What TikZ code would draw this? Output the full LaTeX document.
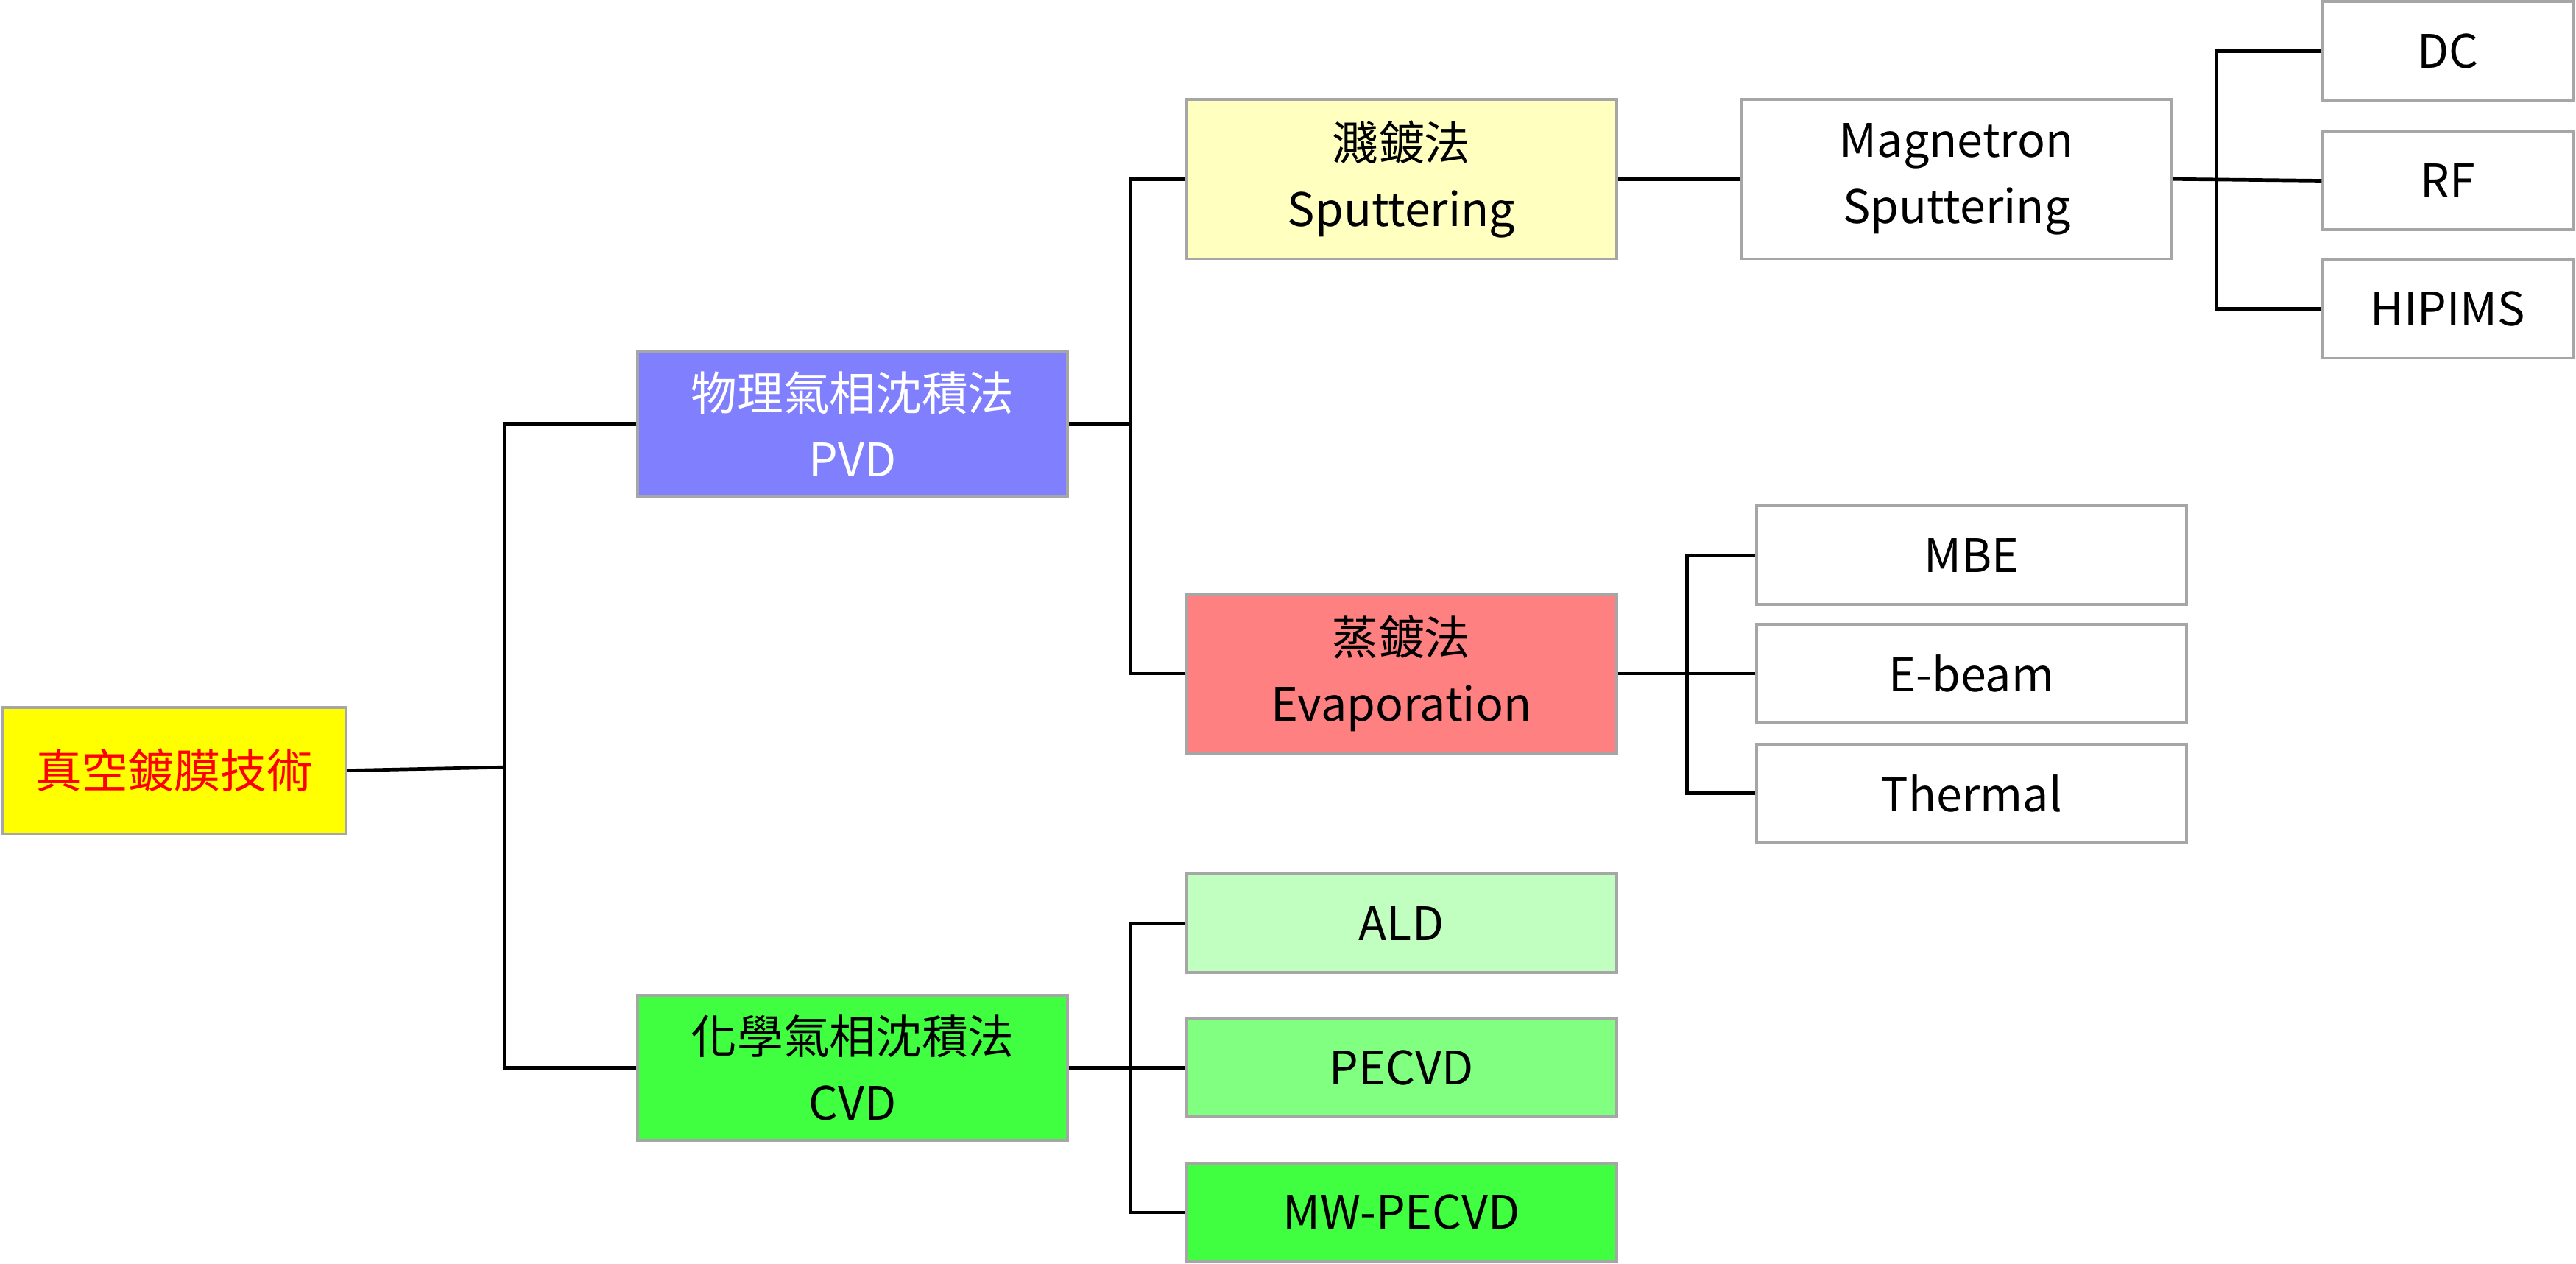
\documentclass[tikz,border=0pt]{standalone}
\usepackage{fontspec}
\setmainfont{Noto Sans CJK TC}
\usetikzlibrary{positioning}
\definecolor{rootfill}{HTML}{FFFF00}
\definecolor{pvdfill}{HTML}{8080FF}
\definecolor{cvdfill}{HTML}{40FF40}
\definecolor{sputfill}{HTML}{FFFFC0}
\definecolor{evapfill}{HTML}{FF8080}
\definecolor{aldfill}{HTML}{C0FFC0}
\definecolor{pecvdfill}{HTML}{80FF80}
\begin{document}
\begin{tikzpicture}[x=0.02cm, y=-0.02cm,% styles used in image code
box/.style = {draw=gray!70, line width=1pt, align=center,
              minimum width=5.24cm, minimum height=1.94cm,
              inner sep=0pt, font=\fontsize{16}{23}\selectfont},
low/.style = {box, minimum height=1.2cm},
leaf/.style = {box, minimum width=3.04cm, minimum height=1.2cm},
link/.style = {draw, line width=1.2pt}
                    ]
	\useasboundingbox (0,0) rectangle (1568,769);

	% root and first level
	\node[box, fill=rootfill, text=red, minimum width=4.18cm, minimum height=1.54cm] (root) at (106,469) {真空鍍膜技術};
	\node[box, fill=pvdfill, text=white, minimum height=1.76cm] (pvd) at (519,258) {物理氣相沈積法\\PVD};
	\node[box, fill=cvdfill, minimum height=1.76cm] (cvd) at (519,650) {化學氣相沈積法\\CVD};

	% second level
	\node[box, fill=sputfill] (sput) at (853,109) {濺鍍法\\Sputtering};
	\node[box, fill=evapfill] (evap) at (853,410) {蒸鍍法\\Evaporation};
	\node[low, fill=aldfill] (ald) at (853,562) {ALD};
	\node[low, fill=pecvdfill] (pecvd) at (853,650) {PECVD};
	\node[low, fill=cvdfill] (mwpecvd) at (853,738) {MW-PECVD};

	% third level
	\node[box] (magn) at (1191,109) {Magnetron\\Sputtering};
	\node[low] (mbe) at (1200,338) {MBE};
	\node[low] (ebeam) at (1200,410) {E-beam};
	\node[low] (thermal) at (1200,483) {Thermal};

	\node[leaf] (dc) at (1490,31) {DC};
	\node[leaf] (rf) at (1490,110) {RF};
	\node[leaf] (hipims) at (1490,188) {HIPIMS};

	% branch points
	\coordinate (j1) at (307,467);
	\coordinate (j2) at (688,258);
	\coordinate (j3) at (688,650);
	\coordinate (j4) at (1027,410);
	\coordinate (j5) at (1349,110);

	\draw[link] (root.east) -- (j1);
	\draw[link] (pvd.west) -| (j1) |- (cvd.west);
	\draw[link] (pvd.east) -- (j2);
	\draw[link] (sput.west) -| (j2) |- (evap.west);
	\draw[link] (cvd.east) -- (pecvd.west);
	\draw[link] (ald.west) -| (j3) |- (mwpecvd.west);
	\draw[link] (sput.east) -- (magn.west);
	\draw[link] (magn.east) -- (rf.west);
	\draw[link] (dc.west) -| (j5) |- (hipims.west);
	\draw[link] (evap.east) -- (ebeam.west);
	\draw[link] (mbe.west) -| (j4) |- (thermal.west);
\end{tikzpicture}
\end{document}
